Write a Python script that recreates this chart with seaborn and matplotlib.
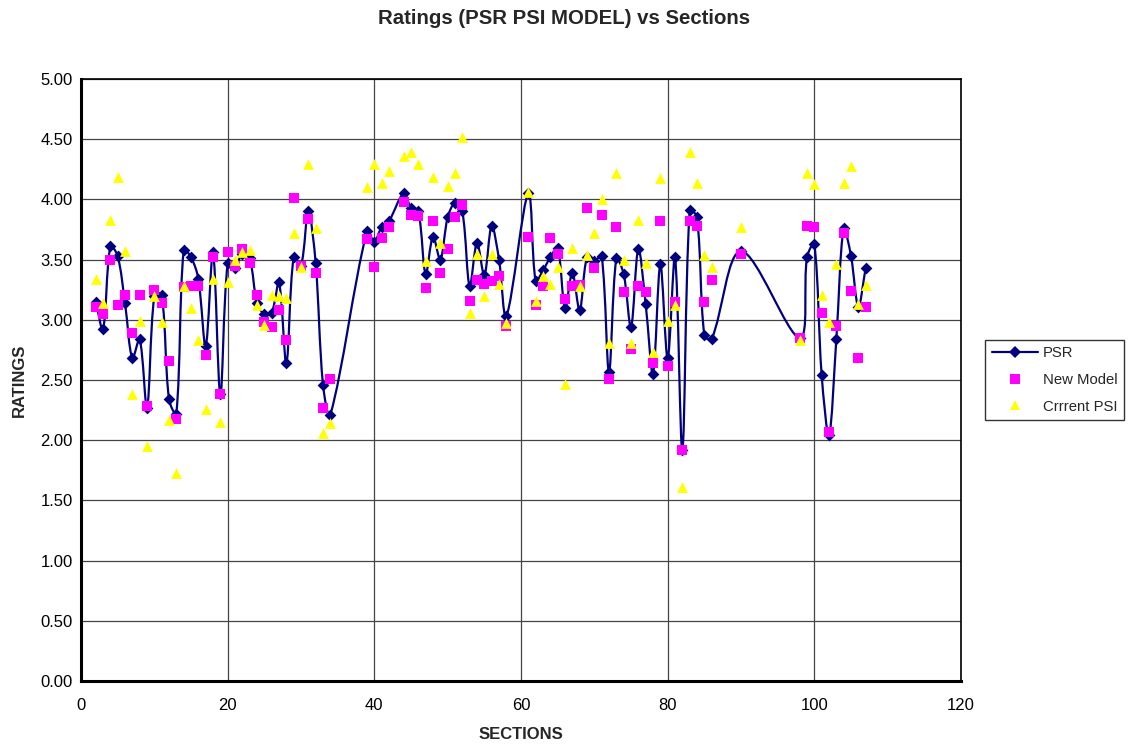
import numpy as np
import pandas as pd
import matplotlib
matplotlib.use("Agg")
import matplotlib.pyplot as plt
from matplotlib.path import Path
from matplotlib.patches import PathPatch
from matplotlib.lines import Line2D
import seaborn as sns

sections = (list(range(2, 35)) + [39, 40, 41, 42] + list(range(44, 59))
            + list(range(61, 87)) + [90] + list(range(98, 108)))

psr = [3.15, 2.92, 3.61, 3.53, 3.14, 2.68, 2.84, 2.27, 3.20, 3.21,
       2.34, 2.22, 3.58, 3.52, 3.34, 2.78, 3.56, 2.38, 3.47, 3.43,
       3.55, 3.51, 3.14, 3.05, 3.06, 3.31, 2.64, 3.52, 3.45, 3.90,
       3.47, 2.46, 2.21,
       3.74, 3.65, 3.77, 3.82,
       4.05, 3.93, 3.90, 3.38, 3.69, 3.50, 3.85, 3.97, 3.90, 3.28,
       3.64, 3.37, 3.78, 3.50, 3.03,
       4.05, 3.32, 3.41, 3.52, 3.60, 3.10, 3.39, 3.08, 3.52, 3.49,
       3.53, 2.57, 3.51, 3.38, 2.94, 3.59, 3.13, 2.55, 3.46, 2.68,
       3.52, 1.92, 3.91, 3.85, 2.87, 2.84,
       3.57,
       2.85, 3.52, 3.63, 2.54, 2.04, 2.84, 3.76, 3.53, 3.11, 3.43]

new_model = [3.11, 3.05, 3.50, 3.12, 3.21, 2.89, 3.21, 2.28, 3.25, 3.14,
             2.66, 2.18, 3.27, 3.28, 3.28, 2.71, 3.52, 2.38, 3.56, 3.45,
             3.59, 3.47, 3.21, 2.98, 2.94, 3.08, 2.83, 4.01, 3.45, 3.84,
             3.39, 2.27, 2.51,
             3.67, 3.44, 3.68, 3.77,
             3.98, 3.87, 3.86, 3.26, 3.82, 3.39, 3.59, 3.85, 3.95, 3.16,
             3.33, 3.30, 3.32, 3.36, 2.95,
             3.69, 3.12, 3.28, 3.68, 3.55, 3.17, 3.28, 3.29, 3.93, 3.43,
             3.87, 2.51, 3.77, 3.23, 2.76, 3.28, 3.23, 2.64, 3.82, 2.62,
             3.15, 1.92, 3.82, 3.78, 3.15, 3.33,
             3.55,
             2.85, 3.78, 3.77, 3.06, 2.07, 2.95, 3.72, 3.24, 2.68, 3.11]

current_psi = [3.34, 3.14, 3.83, 4.19, 3.57, 2.38, 2.99, 1.95, 3.20, 2.98,
               2.17, 1.73, 3.28, 3.10, 2.83, 2.26, 3.34, 2.15, 3.31, 3.50,
               3.56, 3.58, 3.12, 2.96, 3.21, 3.20, 3.18, 3.72, 3.44, 4.29,
               3.76, 2.06, 2.14,
               4.10, 4.29, 4.14, 4.24,
               4.36, 4.39, 4.29, 3.49, 4.19, 3.64, 4.11, 4.22, 4.52, 3.06,
               3.55, 3.20, 3.55, 3.30, 2.97,
               4.06, 3.16, 3.36, 3.30, 3.44, 2.47, 3.60, 3.28, 3.54, 3.72,
               4.00, 2.81, 4.22, 3.50, 2.81, 3.83, 3.47, 2.73, 4.18, 2.99,
               3.12, 1.61, 4.39, 4.14, 3.54, 3.44,
               3.77,
               2.83, 4.22, 4.13, 3.21, 2.98, 3.46, 4.14, 4.28, 3.13, 3.29]

series_names = ["PSR", "New Model", "Crrrent PSI"]
title = "Ratings (PSR PSI MODEL) vs Sections"
x_label = "SECTIONS"
y_label = "RATINGS"
x_ticks = [0, 20, 40, 60, 80, 100, 120]
y_ticks = [0.0, 0.5, 1.0, 1.5, 2.0, 2.5, 3.0, 3.5, 4.0, 4.5, 5.0]

df = pd.DataFrame({"section": sections, "PSR": psr,
                   "New Model": new_model, "Crrrent PSI": current_psi})

sns.set_style("white")
plt.rcParams["font.family"] = ["Liberation Sans", "DejaVu Sans"]

NAVY = "#000080"
PINK = "#FF00FF"
YELLOW = "#FFFF00"

fig = plt.figure(figsize=(11.28, 7.49), dpi=100)
ax = fig.add_axes([81 / 1128, 1 - 681 / 749, 880 / 1128, 602 / 749])
ax.set_xlim(0, 120)
ax.set_ylim(0, 5)

# Smoothed PSR line: cubic Bezier segments in data coordinates, tangents
# scaled by chord lengths measured on screen (limits overshoot).
xs = np.asarray(df["section"], dtype=float)
ys = np.asarray(df["PSR"], dtype=float)
pts = np.column_stack([xs, ys])
scale = np.array([880 / 120.0, 602 / 5.0])
n = len(pts)


def chord(a, b):
    return float(np.hypot(*((b - a) * scale))) + 1e-9


verts = [tuple(pts[0])]
codes = [Path.MOVETO]
for i in range(n - 1):
    p0 = pts[i - 1] if i > 0 else pts[i]
    p1 = pts[i]
    p2 = pts[i + 1]
    p3 = pts[i + 2] if i + 2 < n else pts[i + 1]
    d01, d12, d23 = chord(p0, p1), chord(p1, p2), chord(p2, p3)
    c1 = p1 + (p2 - p0) * (d12 / (d01 + d12)) / 3.0 if i > 0 else p1 + (p2 - p1) / 3.0
    c2 = p2 - (p3 - p1) * (d12 / (d12 + d23)) / 3.0 if i + 2 < n else p2 - (p2 - p1) / 3.0
    verts += [tuple(c1), tuple(c2), tuple(p2)]
    codes += [Path.CURVE4, Path.CURVE4, Path.CURVE4]
ax.add_patch(PathPatch(Path(verts, codes), facecolor="none",
                       edgecolor=NAVY, linewidth=1.6, zorder=3))

sns.scatterplot(data=df, x="section", y="PSR", ax=ax, marker="D",
                color=NAVY, s=36, linewidth=0, zorder=4, legend=False)
sns.scatterplot(data=df, x="section", y="New Model", ax=ax, marker="s",
                color=PINK, s=60, linewidth=0, zorder=5, legend=False)
sns.scatterplot(data=df, x="section", y="Crrrent PSI", ax=ax, marker="^",
                color=YELLOW, s=60, linewidth=0, zorder=6, legend=False)

ax.set_xlim(0, 120)
ax.set_ylim(0, 5)
ax.set_xticks(x_ticks)
ax.set_yticks(y_ticks)
ax.set_xticklabels([str(t) for t in x_ticks])
ax.set_yticklabels([f"{t:.2f}" for t in y_ticks])
ax.grid(True, color="#444444", linewidth=0.9)
ax.set_axisbelow(True)
for sp in ax.spines.values():
    sp.set_color("black")
    sp.set_linewidth(1.2)
ax.spines["left"].set_linewidth(2.2)
ax.spines["bottom"].set_linewidth(2.2)
ax.tick_params(axis="both", direction="out", length=4, width=1,
               color="black", labelsize=12, labelcolor="black")
ax.tick_params(axis="y", pad=2)
ax.tick_params(axis="x", pad=8)
ax.set_xlabel(x_label, fontsize=12, fontweight="bold", labelpad=10)
ax.set_ylabel(y_label, fontsize=12, fontweight="bold", labelpad=10)
fig.text(0.5, 1 - 19 / 749, title, ha="center", va="center",
         fontsize=14.7, fontweight="bold")

handles = [
    Line2D([0], [0], color=NAVY, lw=1.6, marker="D", markersize=6,
           markeredgewidth=0),
    Line2D([0], [0], color=PINK, lw=0, marker="s", markersize=7.5,
           markeredgewidth=0),
    Line2D([0], [0], color=YELLOW, lw=0, marker="^", markersize=7.8,
           markeredgewidth=0),
]
leg = fig.legend(handles, series_names, loc="center left",
                 bbox_to_anchor=(985 / 1128, 1 - 380 / 749),
                 fontsize=10.7, frameon=True, fancybox=False,
                 edgecolor="black", handlelength=3.1, borderpad=0.45,
                 labelspacing=0.85, handletextpad=0.35, borderaxespad=0)
leg.get_frame().set_linewidth(1.0)

fig.savefig("out.png", dpi=100)
